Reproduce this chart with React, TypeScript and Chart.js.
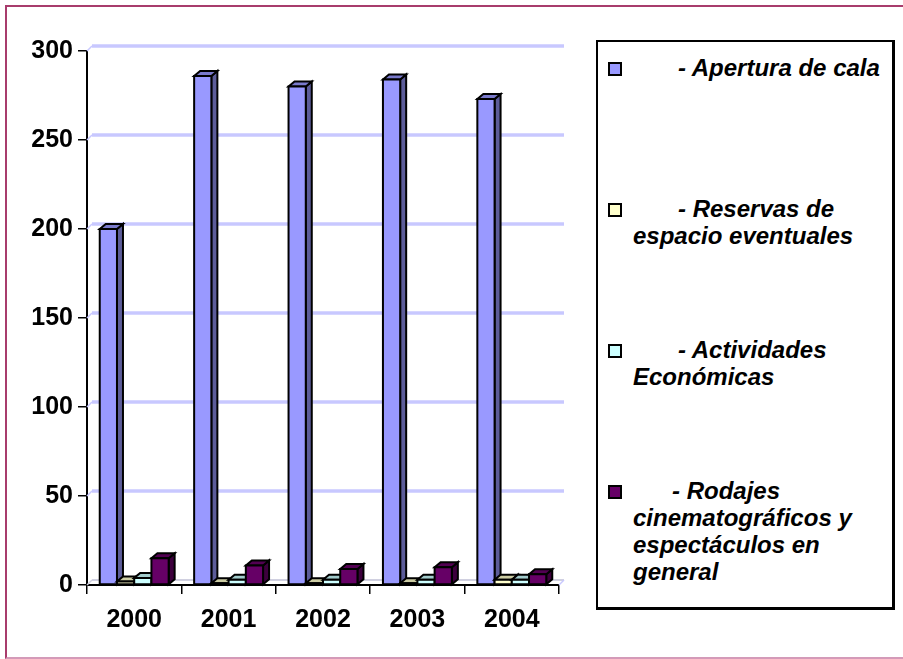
import React, { useEffect, useRef } from "react";
import { Chart, registerables } from "chart.js";

Chart.register(...registerables);

const categories = ["2000", "2001", "2002", "2003", "2004"];
const apertura = [200, 286, 280, 284, 273];
const reservas = [2, 1, 1, 1, 3];
const actividades = [4, 3, 3, 3, 3];
const rodajes = [15, 11, 9, 10, 6];
const seriesColors = ["#9999ff", "#ffffcc", "#ccffff", "#660066"];
const seriesLegendLines = [
  ["- Apertura de cala"],
  ["- Reservas de", "espacio eventuales"],
  ["- Actividades", "Económicas"],
  ["- Rodajes", "cinematográficos y", "espectáculos en", "general"],
];
const seriesNames = seriesLegendLines.map((l) => l.join(" "));
const yMin = 0;
const yMax = 300;
const yStep = 50;

const FONT = "'Liberation Sans', Arial, Helvetica, sans-serif";

function shade(hex: string, f: number) {
  const n = parseInt(hex.slice(1), 16);
  const r = Math.round(((n >> 16) & 255) * f);
  const g = Math.round(((n >> 8) & 255) * f);
  const b = Math.round((n & 255) * f);
  return `rgb(${r},${g},${b})`;
}

const WALL_DX = 5;
const WALL_DY = 5;
const BAR_DX = 6;
const BAR_DY = 5;

const threeD = {
  id: "threeD",
  beforeDatasetsDraw(chart: any) {
    const { ctx, chartArea, scales } = chart;
    const y = scales.y;
    ctx.save();
    for (let v = yMin; v <= yMax; v += yStep) {
      const py = y.getPixelForValue(v);
      ctx.strokeStyle = v === 0 ? "#d0d0e0" : "#c8c8ff";
      ctx.lineWidth = v === 0 ? 2 : 3.5;
      ctx.beginPath();
      ctx.moveTo(chartArea.left + WALL_DX, py - WALL_DY);
      ctx.lineTo(chartArea.right + WALL_DX, py - WALL_DY);
      ctx.stroke();
      ctx.lineWidth = 1.5;
      ctx.beginPath();
      ctx.moveTo(chartArea.left, py);
      ctx.lineTo(chartArea.left + WALL_DX, py - WALL_DY);
      ctx.stroke();
    }
    ctx.strokeStyle = "#c8c8ff";
    ctx.lineWidth = 1.5;
    ctx.beginPath();
    ctx.moveTo(chartArea.right, chartArea.bottom);
    ctx.lineTo(chartArea.right + WALL_DX, chartArea.bottom - WALL_DY);
    ctx.stroke();
    ctx.restore();
  },
  afterDatasetsDraw(chart: any) {
    const { ctx } = chart;
    ctx.save();
    ctx.lineWidth = 2;
    ctx.strokeStyle = "#000";
    ctx.lineJoin = "miter";
    const n = chart.data.labels.length;
    for (let i = 0; i < n; i++) {
      chart.data.datasets.forEach((ds: any, d: number) => {
        const meta = chart.getDatasetMeta(d);
        const el: any = meta.data[i];
        if (!el) return;
        const p = el.getProps(["x", "y", "base", "width"], true);
        const l = p.x - p.width / 2;
        const r = p.x + p.width / 2;
        const t = Math.min(p.y, p.base);
        const b = Math.max(p.y, p.base);
        const col = seriesColors[d];
        ctx.fillStyle = shade(col, 0.6);
        ctx.beginPath();
        ctx.moveTo(r, t);
        ctx.lineTo(r + BAR_DX, t - BAR_DY);
        ctx.lineTo(r + BAR_DX, b - BAR_DY);
        ctx.lineTo(r, b);
        ctx.closePath();
        ctx.fill();
        ctx.stroke();
        ctx.fillStyle = shade(col, 0.8);
        ctx.beginPath();
        ctx.moveTo(l, t);
        ctx.lineTo(l + BAR_DX, t - BAR_DY);
        ctx.lineTo(r + BAR_DX, t - BAR_DY);
        ctx.lineTo(r, t);
        ctx.closePath();
        ctx.fill();
        ctx.stroke();
        ctx.fillStyle = col;
        ctx.beginPath();
        ctx.rect(l, t, r - l, b - t);
        ctx.fill();
        ctx.stroke();
      });
    }
    ctx.restore();
  },
};

export default function App() {
  const canvasRef = useRef<HTMLCanvasElement | null>(null);

  useEffect(() => {
    if (!canvasRef.current) return;
    const seriesData = [apertura, reservas, actividades, rodajes];
    const chart = new Chart(canvasRef.current, {
      type: "bar",
      data: {
        labels: categories,
        datasets: seriesData.map((vals, i) => ({
          label: seriesNames[i],
          data: vals,
          backgroundColor: seriesColors[i],
          borderWidth: 0,
          categoryPercentage: 0.73,
          barPercentage: 1.0,
        })),
      },
      options: {
        animation: false,
        responsive: false,
        devicePixelRatio: 1,
        layout: { padding: { top: 51, right: 344, bottom: 0, left: 0 } },
        plugins: {
          legend: { display: false },
          tooltip: { enabled: false },
          title: { display: false },
        },
        scales: {
          x: {
            afterFit: (s: any) => {
              s.height = 74;
            },
            grid: {
              drawOnChartArea: false,
              drawTicks: true,
              tickLength: 9,
              color: "#000",
              lineWidth: 1.5,
              offset: true,
            },
            border: { display: true, color: "#000", width: 2 },
            ticks: {
              color: "#000",
              padding: 11,
              font: { family: FONT, size: 25, weight: "bold" },
            },
          },
          y: {
            min: yMin,
            max: yMax,
            afterFit: (s: any) => {
              s.width = 87;
            },
            grid: {
              drawOnChartArea: false,
              drawTicks: true,
              tickLength: 9,
              color: "#000",
              lineWidth: 1.5,
            },
            border: { display: true, color: "#000", width: 2 },
            ticks: {
              stepSize: yStep,
              color: "#000",
              padding: 5,
              font: { family: FONT, size: 25, weight: "bold" },
            },
          },
        },
      },
      plugins: [threeD],
    });
    return () => chart.destroy();
  }, []);

  const baselines = [76.7, 218, 359, 500];
  const indents = [45, 45, 45, 39];
  const lineH = 26.7;
  const fontSize = 24;

  return (
    <div
      style={{
        position: "fixed",
        left: 0,
        top: 0,
        width: 903,
        height: 659,
        background: "#fff",
        overflow: "hidden",
      }}
    >
      <canvas ref={canvasRef} width={903} height={659} style={{ display: "block", position: "absolute", left: 0, top: 0 }} />
      <div
        style={{
          position: "absolute",
          left: 5,
          top: 5,
          width: 910,
          height: 654,
          border: "2px solid #a83c6c",
          borderBottomColor: "#d49ab8",
          boxSizing: "border-box",
          pointerEvents: "none",
        }}
      />
      <div
        style={{
          position: "absolute",
          left: 596,
          top: 40,
          width: 299,
          height: 570,
          borderTop: "2px solid #000",
          borderLeft: "2px solid #000",
          borderRight: "3px solid #000",
          borderBottom: "3px solid #000",
          boxSizing: "border-box",
          background: "#fff",
        }}
      />
      {seriesLegendLines.map((lines, i) => (
        <React.Fragment key={i}>
          <div
            style={{
              position: "absolute",
              left: 608,
              top: baselines[i] - 15,
              width: 14,
              height: 14,
              boxSizing: "border-box",
              border: "2px solid #000",
              background: seriesColors[i],
            }}
          />
          <div
            style={{
              position: "absolute",
              left: 633,
              top: baselines[i] - 21.6,
              fontFamily: FONT,
              fontWeight: "bold",
              fontStyle: "italic",
              fontSize,
              lineHeight: `${lineH}px`,
              color: "#000",
              whiteSpace: "nowrap",
            }}
          >
            {lines.map((ln, j) => (
              <div key={j} style={{ marginLeft: j === 0 ? indents[i] : 0 }}>
                {ln}
              </div>
            ))}
          </div>
        </React.Fragment>
      ))}
    </div>
  );
}
